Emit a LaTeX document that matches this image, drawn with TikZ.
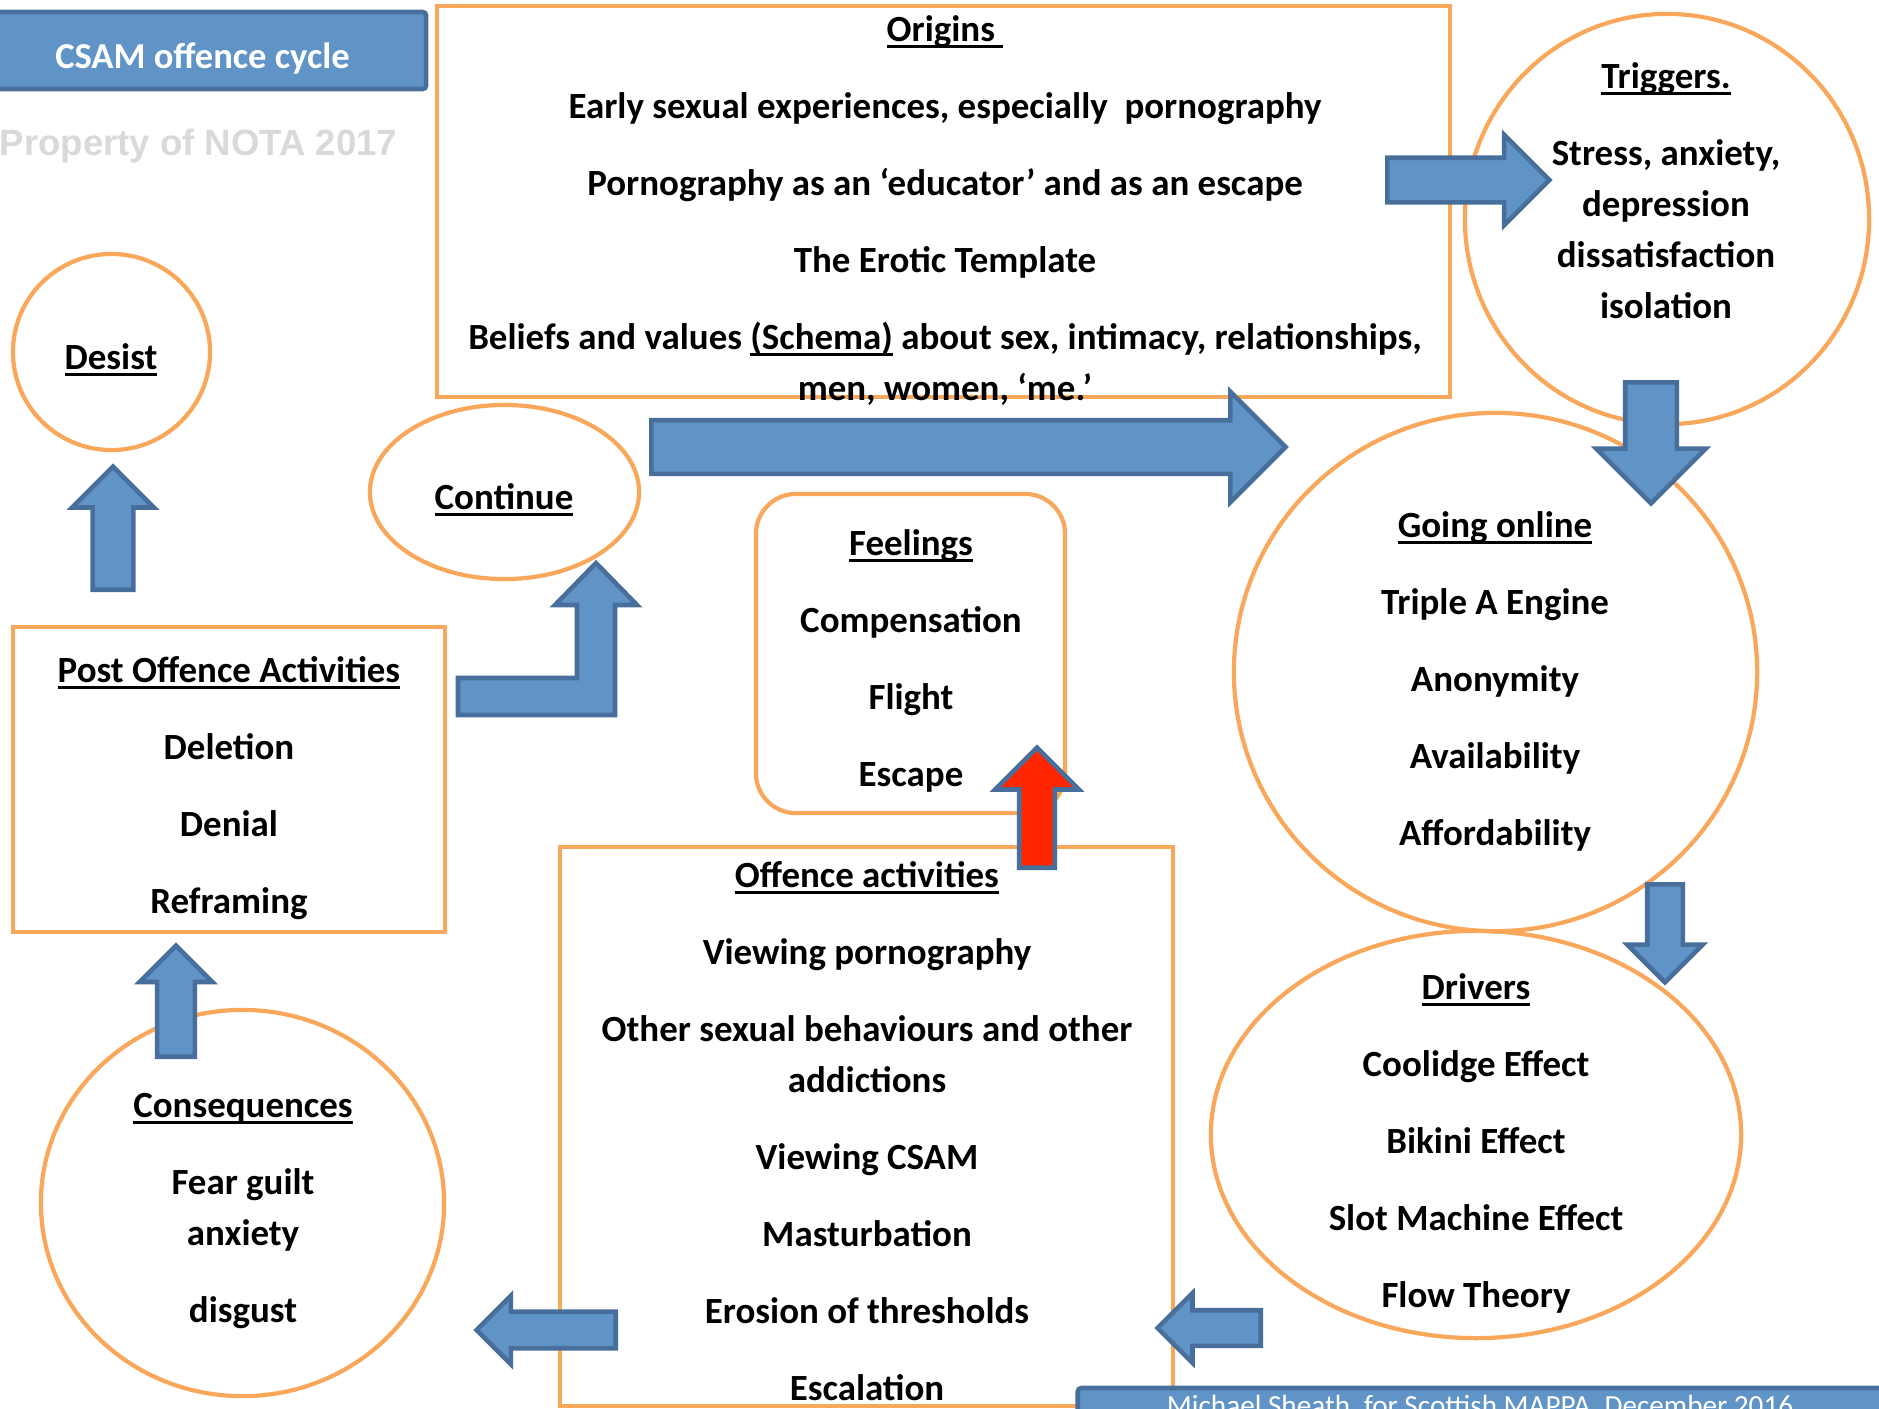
\documentclass[tikz,border=0pt]{standalone}
\usepackage{fontspec}
\setmainfont{Carlito}
\newfontfamily\propfont{Liberation Sans}
\usetikzlibrary{shapes.geometric,shapes.arrows}

\definecolor{notaorange}{RGB}{249,168,91}
\definecolor{notablue}{RGB}{96,148,199}
\definecolor{notablueline}{RGB}{72,110,155}
\definecolor{notared}{RGB}{255,38,0}
\definecolor{notagrey}{RGB}{217,217,217}

% underlined heading
\newsavebox\ulbox
\newcommand{\uln}[1]{\sbox\ulbox{#1}\rlap{\vrule height -1.0pt depth 1.85pt width \wd\ulbox}\usebox\ulbox}

\tikzset{
  orangeshape/.style={draw=notaorange, line width=1.2pt, inner sep=0pt},
  blockarrow/.style={single arrow, draw=notablueline, fill=notablue, line width=1.3pt,
    inner xsep=0pt, single arrow head indent=0pt, anchor=tail},
  bluebar/.style={draw=notablueline, fill=notablue, line width=1.3pt, rounded corners=1pt, inner sep=0pt},
  cycletext/.style={font=\bfseries\fontsize{10.5}{14.5}\selectfont, align=center, inner sep=0pt, anchor=base},
}

\begin{document}
\begin{tikzpicture}[x=0.01cm, y=-0.01cm]
\useasboundingbox (0,0) rectangle (1879,1408);
\clip (0,0) rectangle (1879,1408);

% outlines
\node[orangeshape, rectangle, minimum width=10.13cm, minimum height=3.91cm] (origins) at (943.5,201.5) {};
\node[orangeshape, ellipse, minimum width=4.04cm, minimum height=4.10cm] (triggers) at (1667,219) {};
\node[orangeshape, ellipse, minimum width=1.97cm, minimum height=1.96cm] (desist) at (111.5,352) {};
\node[orangeshape, ellipse, minimum width=2.69cm, minimum height=1.74cm] (continue) at (504.5,492) {};
\node[orangeshape, rectangle, rounded corners=0.4cm, minimum width=3.09cm, minimum height=3.19cm] (feelings) at (910.5,653.5) {};
\node[orangeshape, ellipse, minimum width=5.23cm, minimum height=5.18cm] (online) at (1495.5,672) {};
\node[orangeshape, ellipse, minimum width=5.30cm, minimum height=4.07cm] (drivers) at (1476,1134.5) {};
\node[orangeshape, rectangle, minimum width=6.13cm, minimum height=5.59cm] (offence) at (866.5,1126.5) {};
\node[orangeshape, rectangle, minimum width=4.31cm, minimum height=3.05cm] (post) at (229,779.5) {};
\node[orangeshape, ellipse, minimum width=4.03cm, minimum height=3.86cm] (consequences) at (242.5,1203) {};

% block arrows, placed by their tails
\node[blockarrow, inner ysep=0.20cm, minimum height=1.62cm, minimum width=0.86cm, single arrow head extend=0.23cm] (totriggers) at (1385,180) {};
\node[blockarrow, inner ysep=0.245cm, minimum height=6.34cm, minimum width=1.06cm, single arrow head extend=0.285cm] (backround) at (649,447) {};
\node[blockarrow, inner ysep=0.235cm, minimum height=1.21cm, minimum width=1.05cm, single arrow head extend=0.29cm, rotate=-90] (toonline) at (1651,380) {};
\node[blockarrow, inner ysep=0.155cm, minimum height=0.98cm, minimum width=0.71cm, single arrow head extend=0.20cm, rotate=-90] (todrivers) at (1665,882) {};
\node[blockarrow, inner ysep=0.155cm, minimum height=1.03cm, minimum width=0.65cm, single arrow head extend=0.17cm, rotate=180] (tooffence) at (1263,1328) {};
\node[blockarrow, inner ysep=0.16cm, minimum height=1.39cm, minimum width=0.64cm, single arrow head extend=0.16cm, rotate=180] (toconsequences) at (618,1330) {};
\node[blockarrow, inner ysep=0.165cm, minimum height=1.11cm, minimum width=0.68cm, single arrow head extend=0.175cm, rotate=90] (topost) at (176,1059) {};
\node[blockarrow, inner ysep=0.18cm, minimum height=1.23cm, minimum width=0.77cm, single arrow head extend=0.205cm, rotate=90] (todesist) at (113,592) {};
\node[blockarrow, fill=notared, inner ysep=0.155cm, minimum height=1.20cm, minimum width=0.79cm, single arrow head extend=0.24cm, rotate=90] (tofeelings) at (1037,870) {};
\draw[draw=notablueline, fill=notablue, line width=1.3pt]
  (458,678) -- (577,678) -- (577,605) -- (555,605) -- (596,563) -- (637,605)
  -- (615,605) -- (615,715) -- (458,715) -- cycle;

% texts (placed at the baseline of their last line)
\node[cycletext] (origintext) at (945,400) {\uln{Origins\ }\\[0.26cm]
  Early sexual experiences, especially\ \ pornography\\[0.26cm]
  Pornography as an ‘educator’ and as an escape\\[0.26cm]
  The Erotic Template\\[0.26cm]
  Beliefs and values \uln{(Schema)} about sex, intimacy, relationships,\\
  men, women, ‘me.’};
\node[cycletext] (triggertext) at (1666,318) {\uln{Triggers.}\\[0.26cm]
  Stress, anxiety,\\ depression\\ dissatisfaction\\ isolation};
\node[cycletext] (desisttext) at (111,369) {\uln{Desist}};
\node[cycletext] (continuetext) at (504,509) {\uln{Continue}};
\node[cycletext] (feelingtext) at (911,786) {\uln{Feelings}\\[0.26cm]
  Compensation\\[0.26cm] Flight\\[0.26cm] Escape};
\node[cycletext] (onlinetext) at (1495,845) {\uln{Going online}\\[0.26cm]
  Triple A Engine\\[0.26cm] Anonymity\\[0.26cm] Availability\\[0.26cm] Affordability};
\node[cycletext] (drivertext) at (1476,1307) {\uln{Drivers}\\[0.26cm]
  Coolidge Effect\\[0.26cm] Bikini Effect\\[0.26cm] Slot Machine Effect\\[0.26cm] Flow Theory};
\node[cycletext] (offencetext) at (867,1400) {\uln{Offence activities}\\[0.26cm]
  Viewing pornography\\[0.26cm]
  Other sexual behaviours and other\\ addictions\\[0.26cm]
  Viewing CSAM\\[0.26cm] Masturbation\\[0.26cm] Erosion of thresholds\\[0.26cm] Escalation};
\node[cycletext] (posttext) at (229,913) {\uln{Post Offence Activities}\\[0.26cm]
  Deletion\\[0.26cm] Denial\\[0.26cm] Reframing};
\node[cycletext] (consequencetext) at (243,1322) {\uln{Consequences}\\[0.26cm]
  Fear guilt\\ anxiety\\[0.26cm] disgust};

% header and footer
\node[bluebar, minimum width=4.36cm, minimum height=0.77cm] (title) at (208,50.5) {};
\node[anchor=base, inner sep=0pt, text=white, font=\bfseries\fontsize{10.4}{12}\selectfont] (titletext) at (202.5,68) {CSAM offence cycle};
\node[anchor=base west, inner sep=0pt, text=notagrey, font=\propfont\bfseries\fontsize{10.4}{12}\selectfont] (property) at (-1,155) {Property of NOTA 2017};
\node[bluebar, minimum width=8.12cm, minimum height=0.84cm] (footer) at (1484,1430) {};
\node[anchor=base, inner sep=0pt, text=white, font=\fontsize{8.3}{10}\selectfont] (footertext) at (1480,1415) {Michael Sheath, for Scottish MAPPA, December 2016};
\end{tikzpicture}
\end{document}
